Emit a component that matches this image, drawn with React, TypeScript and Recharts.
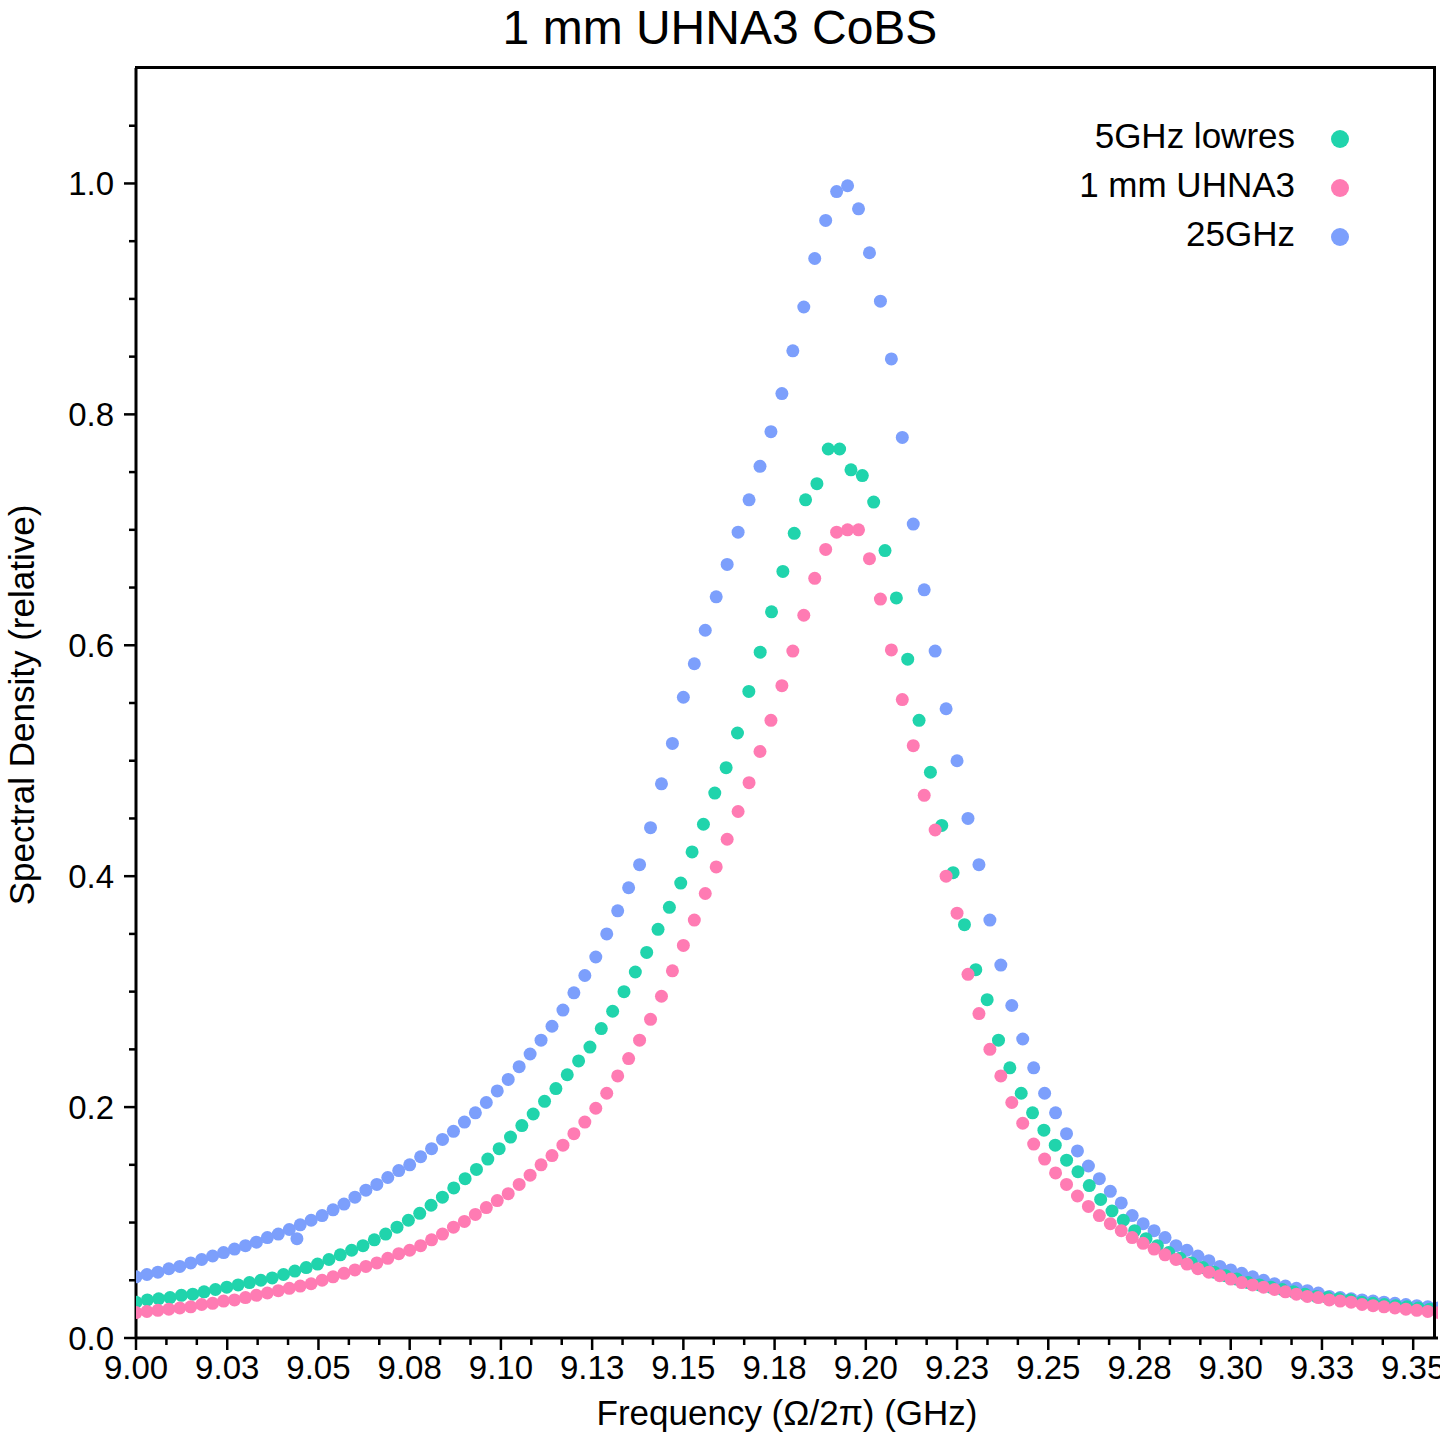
import { ScatterChart, Scatter, XAxis, YAxis } from 'recharts';

// sampling grids (GHz)
const BLUE_START = 9.0;
const BLUE_STEP = 0.003;
const PINK_START = 9.0;
const PINK_STEP = 0.003;
const GREEN_START = 9.0;
const GREEN_STEP = 0.00311;

const blueValues = [
  0.053, 0.055, 0.057, 0.06, 0.062, 0.065, 0.068, 0.071, 0.074, 0.077,
  0.08, 0.083, 0.087, 0.09, 0.094, 0.098, 0.102, 0.106, 0.111, 0.116,
  0.122, 0.128, 0.133, 0.139, 0.145, 0.15, 0.157, 0.164, 0.172, 0.179,
  0.187, 0.195, 0.204, 0.214, 0.224, 0.235, 0.246, 0.258, 0.27, 0.284,
  0.299, 0.314, 0.33, 0.35, 0.37, 0.39, 0.41, 0.442, 0.48, 0.515,
  0.555, 0.584, 0.613, 0.642, 0.67, 0.698, 0.726, 0.755, 0.785, 0.818,
  0.855, 0.893, 0.935, 0.968, 0.993, 0.998, 0.978, 0.94, 0.898, 0.848,
  0.78, 0.705, 0.648, 0.595, 0.545, 0.5, 0.45, 0.41, 0.362, 0.323,
  0.288, 0.259, 0.234, 0.212, 0.195, 0.177, 0.162, 0.149, 0.138, 0.127,
  0.117, 0.106, 0.099, 0.093, 0.087, 0.08, 0.076, 0.071, 0.067, 0.062,
  0.059, 0.056, 0.053, 0.05, 0.047, 0.045, 0.043, 0.041, 0.039, 0.036,
  0.035, 0.034, 0.033, 0.032, 0.031, 0.03, 0.029, 0.028, 0.027, 0.026,
];
const blueOutlierX = [9.0441];
const blueOutlierY = [0.086];

const pinkValues = [
  0.022, 0.023, 0.024, 0.025, 0.026, 0.027, 0.029, 0.03, 0.032, 0.033,
  0.035, 0.037, 0.039, 0.041, 0.043, 0.045, 0.047, 0.05, 0.053, 0.056,
  0.059, 0.062, 0.065, 0.069, 0.073, 0.076, 0.08, 0.085, 0.09, 0.096,
  0.101, 0.107, 0.113, 0.119, 0.125, 0.133, 0.141, 0.15, 0.158, 0.167,
  0.177, 0.187, 0.199, 0.212, 0.227, 0.242, 0.258, 0.276, 0.296, 0.318,
  0.34, 0.362, 0.385, 0.408, 0.432, 0.456, 0.481, 0.508, 0.535, 0.565,
  0.595, 0.626, 0.658, 0.683, 0.698, 0.7, 0.7, 0.675, 0.64, 0.596,
  0.553, 0.513, 0.47, 0.44, 0.4, 0.368, 0.315, 0.281, 0.25, 0.227,
  0.204, 0.186, 0.168, 0.155, 0.143, 0.133, 0.123, 0.114, 0.106, 0.099,
  0.093, 0.087, 0.082, 0.077, 0.072, 0.068, 0.064, 0.06, 0.057, 0.054,
  0.051, 0.048, 0.046, 0.044, 0.042, 0.04, 0.038, 0.036, 0.035, 0.033,
  0.032, 0.031, 0.029, 0.028, 0.027, 0.026, 0.025, 0.024, 0.023, 0.022,
];

const greenValues = [
  0.031, 0.033, 0.034, 0.035, 0.037, 0.038, 0.04, 0.042, 0.044, 0.046,
  0.048, 0.05, 0.052, 0.055, 0.058, 0.061, 0.064, 0.068, 0.072, 0.076,
  0.08, 0.085, 0.09, 0.096, 0.102, 0.108, 0.115, 0.122, 0.13, 0.138,
  0.146, 0.155, 0.164, 0.174, 0.184, 0.194, 0.205, 0.216, 0.228, 0.24,
  0.252, 0.268, 0.283, 0.3, 0.317, 0.334, 0.354, 0.373, 0.394, 0.421,
  0.445, 0.472, 0.494, 0.524, 0.56, 0.594, 0.629, 0.664, 0.697, 0.726,
  0.74, 0.77, 0.77, 0.752, 0.747, 0.724, 0.682, 0.641, 0.588, 0.535,
  0.49, 0.444, 0.403, 0.358, 0.319, 0.293, 0.258, 0.234, 0.212, 0.195,
  0.18, 0.167, 0.154, 0.144, 0.132, 0.12, 0.11, 0.102, 0.093, 0.086,
  0.08, 0.074, 0.069, 0.065, 0.061, 0.057, 0.054, 0.051, 0.048, 0.046,
  0.044, 0.042, 0.04, 0.038, 0.036, 0.035, 0.034, 0.033, 0.031, 0.03,
  0.029, 0.028, 0.027, 0.026, 0.025,
];

const SERIES = [
  { name: '5GHz lowres', color: '#20d4ac' },
  { name: '1 mm UHNA3', color: '#ff7bb3' },
  { name: '25GHz', color: '#7c9ffc' },
];

const X_DOMAIN: [number, number] = [9.0, 9.3568];
const Y_DOMAIN: [number, number] = [0, 1.1];
const X_TICKS = Array.from({ length: 43 }, (_, i) => 9 + (i * 0.025) / 3);
const Y_TICKS = Array.from({ length: 22 }, (_, i) => i * 0.05);

const FONT = 'Liberation Sans, Arial, sans-serif';

const toPoints = (start: number, step: number, vals: number[]) =>
  vals.map((y, i) => ({ x: start + i * step, y }));

const blueData = [
  ...toPoints(BLUE_START, BLUE_STEP, blueValues),
  ...blueOutlierX.map((x, i) => ({ x, y: blueOutlierY[i] })),
];
const pinkData = toPoints(PINK_START, PINK_STEP, pinkValues);
const greenData = toPoints(GREEN_START, GREEN_STEP, greenValues);

const dot = (color: string) => (p: any) => <circle cx={p.cx} cy={p.cy} r={6.5} fill={color} />;

function XTick(props: any) {
  const { x, y, payload, index } = props;
  const major = index % 3 === 0;
  const label = (Math.round(payload.value * 100 + 1e-6) / 100).toFixed(2);
  return (
    <g>
      <line x1={x} x2={x} y1={y - 8} y2={y - 8 + (major ? 12 : 7)} stroke="#000" strokeWidth={2.5} />
      {major && (
        <text x={x} y={y + 33} textAnchor="middle" fontSize={33} fontFamily={FONT} fill="#000">
          {label}
        </text>
      )}
    </g>
  );
}

function YTick(props: any) {
  const { x, y, payload, index } = props;
  const major = index % 4 === 0;
  return (
    <g>
      <line x1={x + 8} x2={x + 8 - (major ? 12 : 7)} y1={y} y2={y} stroke="#000" strokeWidth={2.5} />
      {major && (
        <text x={x - 14} y={y + 12} textAnchor="end" fontSize={33} fontFamily={FONT} fill="#000">
          {payload.value.toFixed(1)}
        </text>
      )}
    </g>
  );
}

export default function App() {
  return (
    <div style={{ position: 'absolute', left: 0, top: 0, width: 1440, height: 1440, background: '#fff', fontFamily: FONT }}>
      <ScatterChart width={1440} height={1440} margin={{ top: 68, right: 2, bottom: 0, left: 0 }}>
        <XAxis
          type="number"
          dataKey="x"
          domain={X_DOMAIN}
          ticks={X_TICKS}
          interval={0}
          allowDataOverflow
          height={102}
          axisLine={{ stroke: '#000', strokeWidth: 3 }}
          tickLine={false}
          tick={<XTick />}
        />
        <YAxis
          type="number"
          dataKey="y"
          domain={Y_DOMAIN}
          ticks={Y_TICKS}
          interval={0}
          allowDataOverflow
          width={136}
          axisLine={{ stroke: '#000', strokeWidth: 3 }}
          tickLine={false}
          tick={<YTick />}
        />
        <Scatter name={SERIES[2].name} data={blueData} shape={dot(SERIES[2].color)} isAnimationActive={false} />
        <Scatter name={SERIES[0].name} data={greenData} shape={dot(SERIES[0].color)} isAnimationActive={false} />
        <Scatter name={SERIES[1].name} data={pinkData} shape={dot(SERIES[1].color)} isAnimationActive={false} />
      </ScatterChart>
      <div
        style={{
          position: 'absolute', left: 135, top: 66, width: 1301, height: 1272,
          borderTop: '3px solid #000', borderRight: '3px solid #000', boxSizing: 'border-box', pointerEvents: 'none',
        }}
      />
      <div style={{ position: 'absolute', left: 0, top: 0, width: 1440, textAlign: 'center', fontSize: 48 }}>1 mm UHNA3 CoBS</div>
      <div style={{ position: 'absolute', left: 136, width: 1302, top: 1393, textAlign: 'center', fontSize: 35 }}>
        Frequency (Ω/2π) (GHz)
      </div>
      <div
        style={{
          position: 'absolute', left: 22, top: 705, fontSize: 35, whiteSpace: 'nowrap',
          transform: 'translate(-50%, -50%) rotate(-90deg)',
        }}
      >
        Spectral Density (relative)
      </div>
      {SERIES.map((s, i) => (
        <div key={s.name} style={{ position: 'absolute', top: 116 + i * 49, right: 145, fontSize: 35, lineHeight: '40px' }}>
          {s.name}
        </div>
      ))}
      {SERIES.map((s, i) => (
        <div
          key={s.name + 'dot'}
          style={{ position: 'absolute', left: 1331, top: 130 + i * 49, width: 18, height: 18, borderRadius: 9, background: s.color }}
        />
      ))}
    </div>
  );
}
